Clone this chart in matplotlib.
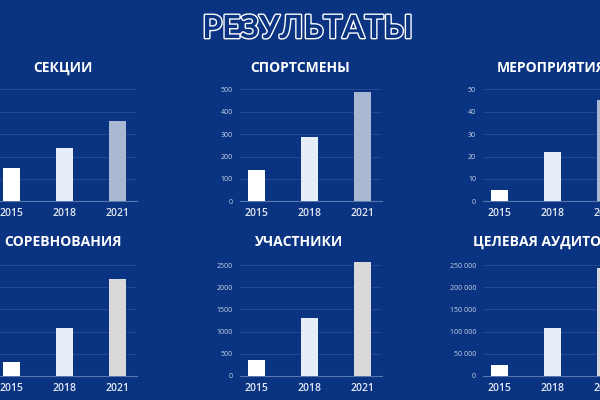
import matplotlib.pyplot as plt
import matplotlib.patheffects as pe
from matplotlib.ticker import FuncFormatter

# data
years = ["2015", "2018", "2021"]
titles = ["СЕКЦИИ", "СПОРТСМЕНЫ", "МЕРОПРИЯТИЯ",
          "СОРЕВНОВАНИЯ", "УЧАСТНИКИ", "ЦЕЛЕВАЯ АУДИТОРИЯ"]
sections = [15, 24, 36]
athletes = [140, 288, 487]
events = [5, 22, 45]
competitions = [31, 109, 218]
participants = [360, 1313, 2574]
audience = [25000, 107000, 243000]
values = [sections, athletes, events, competitions, participants, audience]
y_max = [50, 500, 50, 250, 2500, 250000]
y_step = [10, 100, 10, 50, 500, 50000]

bg = "#0a3482"
row1_colors = ["#ffffff", "#e6eefa", "#aab9d3"]
row2_colors = ["#ffffff", "#e6eefa", "#d9d9d9"]

fig = plt.figure(figsize=(6, 4), dpi=100, facecolor=bg)

# panel layout in pixels (left, bottom of plot area); the image is a crop
lefts = [-5, 240, 483]
bottoms = [201.3, 376]
heights = [112, 111]
title_pos = [(63, 68, "center"), (300, 68, "center"), (497, 68, "left"),
             (63, 242, "center"), (299, 242, "center"), (473, 242, "left")]


def fmt(v, pos):
    if v >= 10000:
        return f"{int(v):,}".replace(",", " ")
    return str(int(v))


for i in range(6):
    r, c = divmod(i, 3)
    ax = fig.add_axes([lefts[c] / 600, (400 - bottoms[r]) / 400,
                       142 / 600, heights[r] / 400])
    ax.set_facecolor(bg)
    colors = row1_colors if r == 0 else row2_colors
    ax.bar(range(3), values[i], width=0.31, color=colors, zorder=3,
           clip_on=False)
    ax.set_xlim(-0.311, 2.368)
    ax.set_ylim(0, y_max[i])
    ax.set_yticks(range(0, y_max[i] + 1, y_step[i]))
    ax.yaxis.set_major_formatter(FuncFormatter(fmt))
    ax.set_xticks(range(3))
    ax.set_xticklabels(years)
    ax.grid(axis="y", color="#3a5c9c", linewidth=0.6, alpha=0.6, zorder=0)
    for s in ["top", "right", "left"]:
        ax.spines[s].set_visible(False)
    ax.spines["bottom"].set_color("#5a78b0")
    ax.spines["bottom"].set_linewidth(0.8)
    ax.tick_params(axis="y", length=0, pad=5, labelsize=5, labelcolor="#c9d3e6",
                   labelleft=(c != 0))
    ax.tick_params(axis="x", length=0, pad=5, labelsize=7.5, labelcolor="#e4eaf4")
    for lbl in ax.get_xticklabels():
        lbl.set_fontfamily("Open Sans")
        lbl.set_fontweight("semibold")
    for lbl in ax.get_yticklabels():
        lbl.set_fontfamily("Open Sans")

    x, y, ha = title_pos[i]
    fig.text(x / 600, 1 - y / 400, titles[i], ha=ha, va="center",
             fontsize=10, fontweight="bold", color="white",
             fontfamily="Open Sans")

fig.text(308 / 600, 1 - 28.5 / 400, "РЕЗУЛЬТАТЫ", ha="center", va="center",
         fontsize=23, fontweight="bold", color=bg, fontfamily="Lato",
         path_effects=[pe.withStroke(linewidth=2, foreground="white")])

fig.savefig("out.png", dpi=100, facecolor=bg)
